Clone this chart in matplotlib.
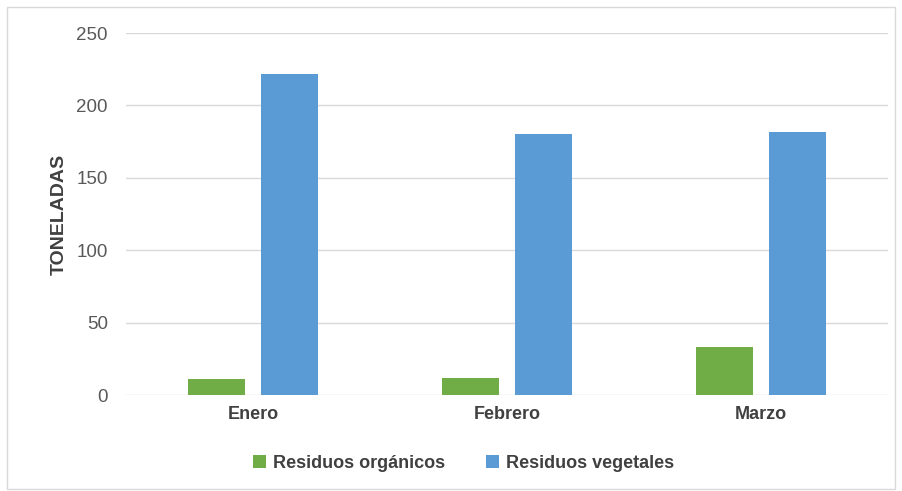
import matplotlib
matplotlib.use("Agg")
import matplotlib.pyplot as plt
import numpy as np
from matplotlib.patches import Rectangle

plt.rcParams['font.family'] = ['Liberation Sans', 'DejaVu Sans']

categories = ["Enero", "Febrero", "Marzo"]
organicos = [11, 12, 33]
vegetales = [222, 180.5, 181.5]
series_names = ["Residuos orgánicos", "Residuos vegetales"]
yticks = [0, 50, 100, 150, 200, 250]

green = "#70AD47"
blue = "#5B9BD5"
txt = "#595959"

fig = plt.figure(figsize=(9.02, 4.91), dpi=100)
ax = fig.add_axes([126/902, 1-395/491, (888-126)/902, (395-33)/491])

x = np.arange(len(categories))
w = 0.224
off = 0.144
ax.bar(x - off, organicos, w, color=green, label=series_names[0], zorder=3)
ax.bar(x + off, vegetales, w, color=blue, label=series_names[1], zorder=3)

ax.set_xlim(-0.5, len(categories) - 0.5)
ax.set_ylim(0, 250)
ax.set_yticks(yticks)
ax.set_yticklabels([str(v) for v in yticks], fontsize=13.5, color=txt)
ax.set_xticks(x)
ax.set_xticklabels(categories, fontsize=13, color="#404040", fontweight="bold")
ax.tick_params(axis='both', length=0)
ax.tick_params(axis='y', pad=13)
ax.tick_params(axis='x', pad=8)
ax.yaxis.grid(True, color="#D9D9D9", linewidth=1, zorder=0)
for s in ax.spines.values():
    s.set_visible(False)
ax.set_ylabel("TONELADAS", fontsize=14, fontweight="bold", color="#404040", labelpad=6)

fig.legend(loc="center", bbox_to_anchor=(0.514, 1-463/491), ncol=2, frameon=False,
           handlelength=0.7, handleheight=0.7, handletextpad=0.4,
           columnspacing=2.3, labelcolor="#404040",
           prop={'size': 13, 'weight': 'bold'})

fig.patches.append(Rectangle((7/902, 1-489/491), (895-7)/902, (489-7)/491,
                             transform=fig.transFigure, fill=False,
                             edgecolor="#D9D9D9", linewidth=1))

fig.savefig("out.png", dpi=100)
